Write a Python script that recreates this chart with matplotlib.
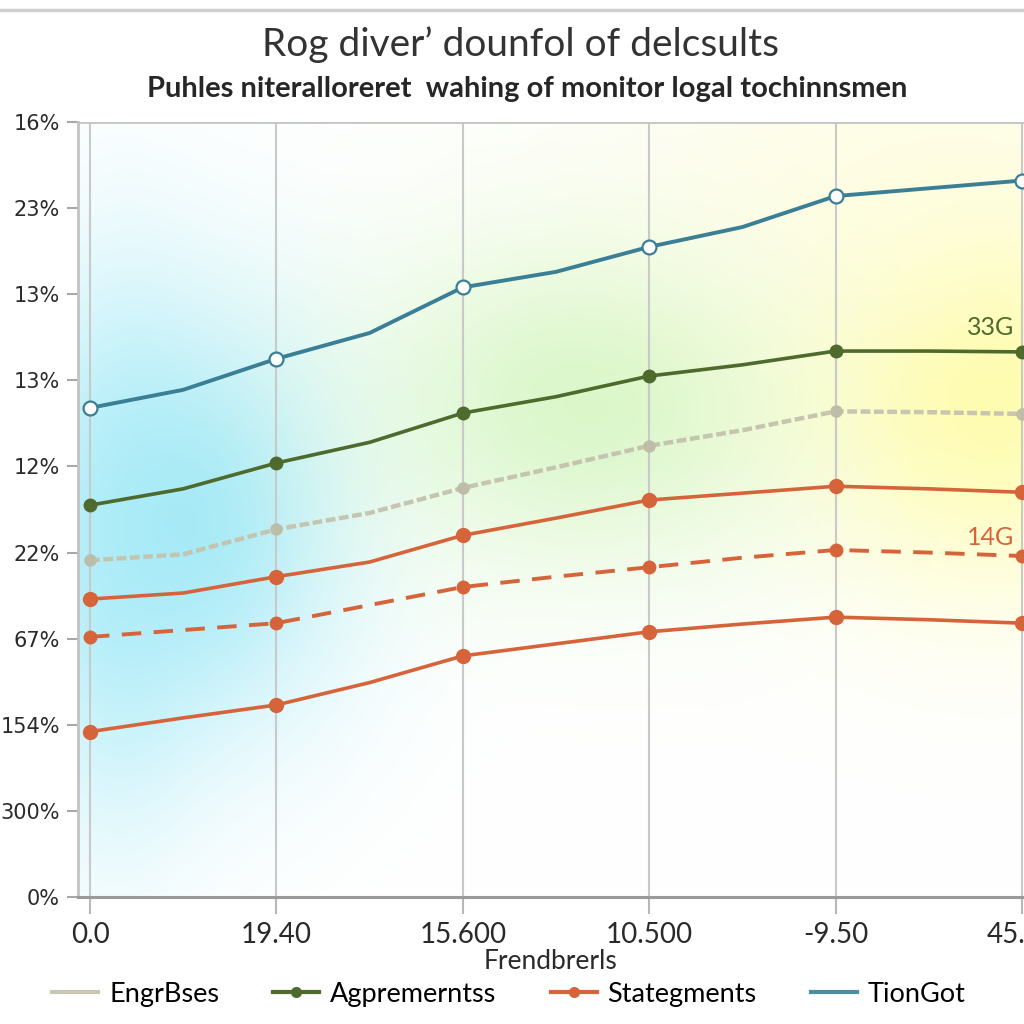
import numpy as np
import matplotlib
matplotlib.use("Agg")
import matplotlib.pyplot as plt
from matplotlib import font_manager
from matplotlib.lines import Line2D

# ---------------- data ----------------
x_pos = [0, 0.5, 1, 1.5, 2, 2.5, 3, 3.5, 4, 4.5, 5]
x_tick_pos = [0, 1, 2, 3, 4, 5]
x_tick_labels = ["0.0", "19.40", "15.600", "10.500", "-9.50", "45.00"]
y_tick_pos = [0, 1, 2, 3, 4, 5, 6, 7, 8, 9]
y_tick_labels = ["0%", "300%", "154%", "67%", "22%", "12%", "13%", "13%", "23%", "16%"]

tiongot = [5.68, 5.89, 6.25, 6.55, 7.08, 7.26, 7.55, 7.78, 8.14, 8.23, 8.32]
agpremerntss = [4.55, 4.74, 5.04, 5.28, 5.62, 5.81, 6.05, 6.18, 6.34, 6.34, 6.33]
engrbses = [3.91, 3.98, 4.27, 4.46, 4.75, 4.99, 5.24, 5.42, 5.64, 5.63, 5.61]
stategments_a = [3.46, 3.53, 3.72, 3.89, 4.20, 4.40, 4.61, 4.69, 4.77, 4.74, 4.70]
stategments_b = [3.02, 3.10, 3.18, 3.39, 3.60, 3.72, 3.83, 3.94, 4.03, 4.00, 3.96]
stategments_c = [1.92, 2.08, 2.23, 2.49, 2.80, 2.94, 3.08, 3.17, 3.25, 3.22, 3.18]

series_names = ["EngrBses", "Agpremerntss", "Stategments", "TionGot"]
annot_texts = ["33G", "14G"]
annot_pos = [(4.83, 6.61), (4.83, 4.18)]

title = "Rog diver’ dounfol of delcsults"
subtitle = "Puhles niteralloreret  wahing of monitor logal tochinnsmen"
xlabel = "Frendbrerls"

# ---------------- fonts ----------------
avail = {f.name for f in font_manager.fontManager.ttflist}
COND = "Lato" if "Lato" in avail else "Liberation Sans"
cond_fam = [COND, "DejaVu Sans"]

TEAL = "#3a7f96"
GREEN = "#4e6a2c"
GREY = "#c4c3ae"
ORANGE = "#d6643a"

fig = plt.figure(figsize=(10.24, 10.24), dpi=100)
fig.patch.set_facecolor("white")

W, H = 1024, 1024
x0p, x1p, y0p, y1p = 78, 1024, 122, 897
ax = fig.add_axes([x0p / W, 1 - y1p / H, (x1p - x0p) / W, (y1p - y0p) / H])
ax.set_facecolor("none")

px_per_x = 186.4
xmin = -(90 - x0p) / px_per_x
xmax = 5 + (x1p - 1022) / px_per_x
ax.set_xlim(xmin, xmax)
ax.set_ylim(0, 9)

# background glow (decorative)
gx, gy = np.meshgrid(np.arange(x0p, x1p), np.arange(y0p, y1p))
img = np.ones((gy.shape[0], gx.shape[1], 3))
blobs = [
    ((190, 520), (110, 150), (0.62, 0.91, 0.97), 0.9),
    ((110, 560), (60, 190), (0.64, 0.92, 0.97), 0.6),
    ((590, 400), (160, 120), (0.82, 0.96, 0.74), 0.8),
    ((995, 385), (130, 140), (1.00, 0.99, 0.62), 0.85),
    ((880, 170), (200, 120), (1.00, 0.99, 0.86), 0.55),
]
for (cx, cy), (sx, sy), col, a in blobs:
    w = a * np.exp(-(((gx - cx) ** 2) / (2 * sx ** 2) + ((gy - cy) ** 2) / (2 * sy ** 2)))
    for k in range(3):
        img[..., k] = img[..., k] * (1 - w) + col[k] * w
ax.imshow(img, extent=[xmin, xmax, 0, 9], aspect="auto", origin="upper", zorder=0)

# grid
for xt in x_tick_pos:
    ax.axvline(xt, color="#c9c9c9", lw=1.5, zorder=1)
ax.axhline(9, color="#c4c4c4", lw=2, zorder=1)

# series
ax.plot(x_pos, engrbses, color=GREY, lw=3.2, ls=(0, (2.2, 0.8)), marker="o", markevery=2,
        ms=8, mfc="#bdbca8", mec="#bdbca8", zorder=3, alpha=0.95)
ax.plot(x_pos, stategments_c, color=ORANGE, lw=2.6, marker="o", markevery=2, ms=10,
        mfc=ORANGE, mec=ORANGE, zorder=3)
ax.plot(x_pos, stategments_b, color=ORANGE, lw=2.8, ls=(0, (5, 3.2)), marker="o", markevery=2,
        ms=9, mfc=ORANGE, mec=ORANGE, zorder=3)
ax.plot(x_pos, stategments_a, color=ORANGE, lw=2.6, marker="o", markevery=2, ms=10,
        mfc=ORANGE, mec=ORANGE, zorder=3)
ax.plot(x_pos, agpremerntss, color=GREEN, lw=2.6, marker="o", markevery=2, ms=9,
        mfc=GREEN, mec=GREEN, zorder=3)
ax.plot(x_pos, tiongot, color=TEAL, lw=2.8, marker="o", markevery=2, ms=10,
        mfc="white", mec=TEAL, mew=1.6, zorder=4, clip_on=False)

for txt, (xx, yy), c in zip(annot_texts, annot_pos, [GREEN, ORANGE]):
    ax.text(xx, yy, txt, color=c, fontsize=18, family=cond_fam,
            ha="center", va="center", zorder=5)

# axes styling
for s in ["top", "right"]:
    ax.spines[s].set_visible(False)
ax.spines["left"].set_color("#c2c2c2")
ax.spines["left"].set_linewidth(2)
ax.spines["bottom"].set_color("#9a9a9a")
ax.spines["bottom"].set_linewidth(2.2)

ax.set_yticks(y_tick_pos)
ax.set_yticklabels(y_tick_labels, fontsize=15, color="#2a2a2a", family="DejaVu Sans")
ax.tick_params(axis="y", length=8, width=1.5, color="#a8a8a8", pad=5, direction="out")
ax.set_xticks(x_tick_pos)
ax.set_xticklabels(x_tick_labels, fontsize=20, color="#2a2a2a", family=cond_fam)
ax.tick_params(axis="x", length=12, width=1.5, color="#b8b8b8", pad=6, direction="out")

ax.set_xlabel(xlabel, fontsize=19, family=cond_fam, color="#2a2a2a", labelpad=1)

fig.text(0.508, 0.956, title, ha="center", va="center", fontsize=28,
         family=cond_fam, color="#333333")
fig.text(0.515, 0.913, subtitle, ha="center", va="center", fontsize=21,
         family=cond_fam, weight="bold", color="#262626")

# top decorative line
fig.add_artist(Line2D([0, 1], [1 - 10 / H, 1 - 10 / H], color="#cfcfcf", lw=2.5,
                      transform=fig.transFigure))

handles = [
    Line2D([], [], color="#c8c7b4", lw=3),
    Line2D([], [], color=GREEN, lw=3, marker="o", ms=7),
    Line2D([], [], color=ORANGE, lw=3, marker="o", ms=7),
    Line2D([], [], color="#4b8ea3", lw=3),
]
fig.legend(handles, series_names, loc="center", bbox_to_anchor=(0.497, 0.029), ncol=4,
           frameon=False, prop={"family": cond_fam, "size": 19.5},
           handlelength=1.7, columnspacing=2.0, handletextpad=0.4)

fig.savefig("out.png", dpi=100, facecolor="white")
